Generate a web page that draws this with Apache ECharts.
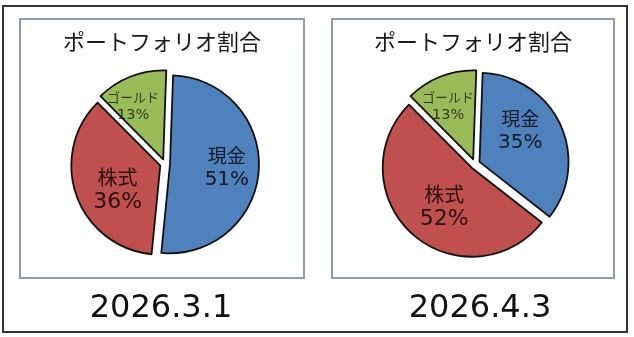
<!DOCTYPE html>
<html>
<head>
<meta charset="utf-8">
<script src="https://cdn.jsdelivr.net/npm/echarts@6/dist/echarts.min.js"></script>
<style>html,body{margin:0;padding:0;background:#fff}#c{width:634px;height:337px}</style>
</head>
<body>
<div id="c"></div>
<script>
// ---- data ----
const categories = ['現金', '株式', 'ゴールド'];
const valuesMar = [51, 36, 13];
const valuesApr = [35, 52, 13];
const chartTitle = 'ポートフォリオ割合';
const dateLabels = ['2026.3.1', '2026.4.3'];

// ---- style ----
const colors = ['#4F81BD', '#C0504D', '#9BBB59'];
const R = 89, OFFSET = 5, START = 88;
const centers = [[165, 164], [475, 164]];
// label placement: [distance from centre (px), angular tweak (deg)] per slice
const labelPolar = [
  [[62, 0], [54, -9], [66, -7.5]],
  [[56, -11], [53, -6], [64, -3.5]]
];
const boxCenters = [162, 473];

const rich = {
  n0: { fontSize: 19, lineHeight: 24, fontFamily: 'Noto Sans CJK JP', fill: 'rgba(0,0,0,0.8)' },
  p0: { fontSize: 20, lineHeight: 24, fontFamily: 'DejaVu Sans', fill: 'rgba(0,0,0,0.8)' },
  n1: { fontSize: 20, lineHeight: 25, fontFamily: 'Noto Sans CJK JP', fill: 'rgba(0,0,0,0.8)' },
  p1: { fontSize: 22, lineHeight: 25, fontFamily: 'DejaVu Sans', fill: 'rgba(0,0,0,0.8)' },
  n2: { fontSize: 13, lineHeight: 18, fontFamily: 'Noto Sans CJK JP', fill: 'rgba(0,0,0,0.7)' },
  p2: { fontSize: 14.5, lineHeight: 18, fontFamily: 'DejaVu Sans', fill: 'rgba(0,0,0,0.7)' }
};

function sliceLabels(k, vals) {
  const total = vals.reduce((a, b) => a + b, 0);
  let cum = 0;
  return vals.map((v, i) => {
    const midCw = (90 - START) + (cum + v / 2) / total * 360 + labelPolar[k][i][1];
    cum += v;
    const a = midCw * Math.PI / 180;
    const d = labelPolar[k][i][0];
    return {
      type: 'text',
      x: centers[k][0] + Math.sin(a) * d,
      y: centers[k][1] - Math.cos(a) * d,
      z: 100,
      silent: true,
      style: {
        text: '{n' + i + '|' + categories[i] + '}\n{p' + i + '|' + v + '%}',
        rich: rich,
        align: 'center',
        verticalAlign: 'middle'
      }
    };
  });
}

function pieSeries(k, vals) {
  return {
    type: 'pie',
    center: centers[k],
    radius: R,
    startAngle: START,
    clockwise: true,
    selectedMode: 'multiple',
    selectedOffset: OFFSET,
    animation: false,
    emphasis: { disabled: true },
    itemStyle: { borderColor: '#111', borderWidth: 1.8 },
    label: { show: false },
    labelLine: { show: false },
    data: categories.map((c, i) => ({ name: c, value: vals[i], selected: true, itemStyle: { color: colors[i] } }))
  };
}

const chart = echarts.init(document.getElementById('c'), null, { renderer: 'canvas' });
chart.setOption({
  backgroundColor: '#fff',
  animation: false,
  title: [
    { text: chartTitle, left: boxCenters[0], top: 31, textAlign: 'center', padding: 0,
      textStyle: { fontSize: 22, fontWeight: 'normal', color: '#1a1a1a', fontFamily: 'Noto Sans CJK JP' } },
    { text: chartTitle, left: boxCenters[1], top: 31, textAlign: 'center', padding: 0,
      textStyle: { fontSize: 22, fontWeight: 'normal', color: '#1a1a1a', fontFamily: 'Noto Sans CJK JP' } },
    { text: dateLabels[0], left: 161, top: 293, textAlign: 'center', padding: 0,
      textStyle: { fontSize: 32, fontWeight: 'normal', color: '#111', fontFamily: 'DejaVu Sans' } },
    { text: dateLabels[1], left: 480, top: 293, textAlign: 'center', padding: 0,
      textStyle: { fontSize: 32, fontWeight: 'normal', color: '#111', fontFamily: 'DejaVu Sans' } }
  ],
  graphic: [
    { type: 'rect', shape: { x: 3, y: 6, width: 624, height: 326 }, style: { fill: 'none', stroke: '#333', lineWidth: 2 }, z: -1 },
    { type: 'rect', shape: { x: 20, y: 19, width: 284, height: 259 }, style: { fill: 'none', stroke: '#8E9DB3', lineWidth: 2 }, z: -1 },
    { type: 'rect', shape: { x: 332, y: 19, width: 282, height: 259 }, style: { fill: 'none', stroke: '#8E9DB3', lineWidth: 2 }, z: -1 }
  ].concat(sliceLabels(0, valuesMar), sliceLabels(1, valuesApr)),
  series: [pieSeries(0, valuesMar), pieSeries(1, valuesApr)]
});
</script>
</body>
</html>
